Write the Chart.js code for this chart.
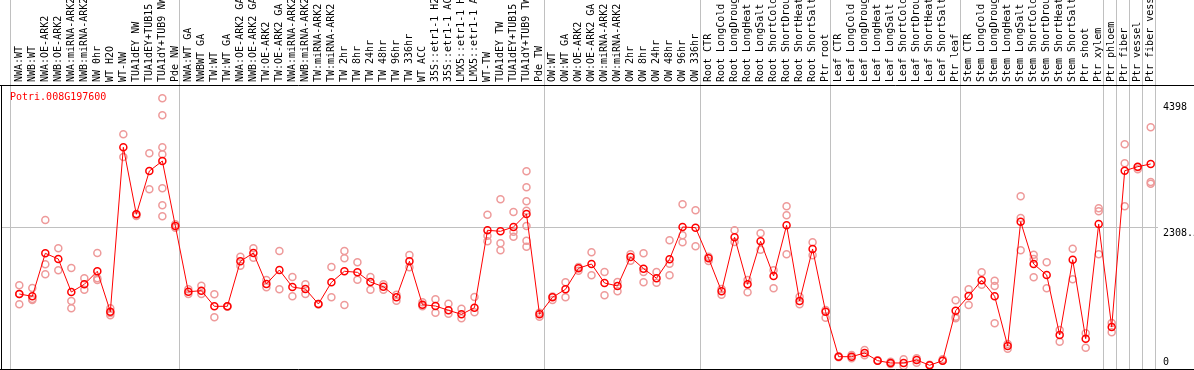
<!DOCTYPE html>
<html>
<head>
<meta charset="utf-8">
<script src="https://cdn.jsdelivr.net/npm/chart.js@4.4.1/dist/chart.umd.min.js"></script>
<style>
  html, body { margin: 0; padding: 0; background: #fff; }
  canvas { display: block; }
</style>
</head>
<body>
<canvas id="chart" width="1194" height="370"></canvas>
<script>
const geneId = 'Potri.008G197600';

const categories = [
    'NWA:WT', 'NWB:WT', 'NWA:OE-ARK2', 'NWB:OE-ARK2', 'NWA:miRNA-ARK2', 'NWB:miRNA-ARK2', 'NW 0hr',
    'WT H2O', 'WT-NW', 'TUA1dEY NW', 'TUA1dEY+TUB15 NW', 'TUA1dY+TUB9 NW', 'Pde NW',
    'NWA:WT GA', 'NWBWT GA', 'TW:WT', 'TW:WT GA', 'NWA:OE-ARK2 GA', 'NWB:OE-ARK2 GA', 'TW:OE-ARK2',
    'TW:OE-ARK2 GA', 'NWA:miRNA-ARK2', 'NWB:miRNA-ARK2', 'TW:miRNA-ARK2', 'TW:miRNA-ARK2',
    'TW 2hr', 'TW 8hr', 'TW 24hr', 'TW 48hr', 'TW 96hr', 'TW 336hr', 'WT ACC',
    '35S::etr1-1 H2O', '35S::etr1-1 ACC', 'LMX5::etr1-1 H2O', 'LMX5::etr1-1 ACC',
    'WT-TW', 'TUA1dEY TW', 'TUA1dEY+TUB15 TW', 'TUA1dY+TUB9 TW', 'Pde TW',
    'OW:WT', 'OW:WT GA', 'OW:OE-ARK2', 'OW:OE-ARK2 GA', 'OW:miRNA-ARK2', 'OW:miRNA-ARK2',
    'OW 2hr', 'OW 8hr', 'OW 24hr', 'OW 48hr', 'OW 96hr', 'OW 336hr',
    'Root CTR', 'Root LongCold', 'Root LongDrought', 'Root LongHeat', 'Root LongSalt',
    'Root ShortCold', 'Root ShortDrought', 'Root ShortHeat', 'Root ShortSalt', 'Ptr root',
    'Leaf CTR', 'Leaf LongCold', 'Leaf LongDrought', 'Leaf LongHeat', 'Leaf LongSalt',
    'Leaf ShortCold', 'Leaf ShortDrought', 'Leaf ShortHeat', 'Leaf ShortSalt', 'Ptr leaf',
    'Stem CTR', 'Stem LongCold', 'Stem LongDrought', 'Stem LongHeat', 'Stem LongSalt',
    'Stem ShortCold', 'Stem ShortDrought', 'Stem ShortHeat', 'Stem ShortSalt',
    'Ptr shoot', 'Ptr xylem', 'Ptr phloem', 'Ptr fiber', 'Ptr vessel', 'Ptr fiber vessel'
];

// mean expression per sample (red line)
const means = [
    1213, 1175, 1888, 1794, 1246, 1374, 1590, 920, 3647, 2535, 3253, 3419, 2341,
    1251, 1268, 1009, 1009, 1756, 1893, 1379, 1611, 1329, 1296, 1047, 1407,
    1590, 1573, 1412, 1334, 1158, 1756, 1036, 1014, 943, 876, 986, 2270, 2253, 2325, 2540, 876,
    1158, 1291, 1640, 1711, 1396, 1346, 1827, 1633, 1474, 1789, 2325, 2313,
    1805, 1258, 2154, 1374, 2087, 1512, 2353, 1097, 1960, 920,
    173, 173, 235, 107, 69, 69, 118, 31, 107, 936,
    1180, 1440, 1175, 351, 2412, 1711, 1528, 533, 1782, 472, 2374, 666, 3258, 3325, 3370
];

// individual replicates per sample (pink circles)
const replicates = [
    [1358, 1043, 1213], [1313, 1130, 1114], [2441, 1706, 1540], [1971, 1606], [1645, 1097, 976],
    [1474, 1285], [1893, 1474, 1446], [976, 860, 900], [3862, 3486], [2540, 2507],
    [3547, 2950], [4459, 4177, 3647, 3531, 2967, 2685, 2502], [2370, 2313],
    [1291, 1213], [1351, 1213], [1208, 827], [1009, 1000], [1832, 1683], [1971, 1815],
    [1446, 1325], [1927, 1291], [1495, 1175], [1374, 1213], [1047, 1040], [1661, 1159],
    [1927, 1806, 1031], [1739, 1451], [1495, 1285], [1374, 1285], [1202, 1102], [1860, 1656],
    [1076, 1009], [1125, 903], [1052, 887], [970, 810], [1164, 910],
    [2529, 2088, 2180], [2784, 2054, 1938], [2574, 2247, 2164],
    [3249, 2983, 2751, 2595, 2341, 2097, 1998], [903, 837],
    [1114, 1170], [1407, 1159], [1660, 1600], [1905, 1524], [1578, 1192], [1412, 1258],
    [1872, 1766], [1888, 1578, 1407], [1578, 1401], [2104, 1716, 1524], [2701, 2187, 2071], [2602, 2005],
    [1832, 1761], [1296, 1202], [2270, 2076], [1446, 1242], [2220, 1948], [1606, 1308],
    [2668, 2519, 1872], [1169, 1043], [2071, 1855], [948, 820],
    [180, 165], [202, 147], [285, 197], [107, 115], [90, 52], [130, 19], [147, 74], [31, 40], [130, 107],
    [1109, 837, 810],
    [1291, 1031], [1573, 1368], [1434, 1346, 727], [384, 306], [2834, 2474, 1938], [1865, 1794, 1490],
    [1739, 1308], [616, 422], [1965, 1457], [562, 323], [2635, 2585, 1872], [732, 578],
    [3696, 3381, 2668], [3315, 3282], [3978, 3071, 3043]
];

// gray separator drawn before these sample indexes
const groupBreaks = [0, 13, 41, 53, 63, 73, 84, 85, 86, 87, 88];
const yTickValues = [0, 2308.5, 4398];
const yTickLabels = ['0', '2308.5', '4398'];

const FONT = 'DejaVu Sans Mono';
const GRID = '#c0c0c0';
const X_MIN = -1.33, X_MAX = 87.56;
const CELL_SHIFT = 0.65; // separator sits this far left of a sample

const meanPoints = means.map((v, i) => ({ x: i, y: v }));
const repPoints = replicates.flatMap((vals, i) => vals.map(v => ({ x: i, y: v })));

const decorations = {
    id: 'decorations',
    afterDraw(chart) {
        const { ctx, chartArea, scales: { y } } = chart;
        ctx.save();
        ctx.font = `10px "${FONT}"`;
        ctx.textBaseline = 'middle';
        ctx.textAlign = 'left';

        // right-hand value labels
        ctx.fillStyle = '#000';
        y.ticks.forEach((t, i) => {
            const py = Math.min(y.getPixelForValue(t.value) + 5, chartArea.bottom - 7);
            ctx.fillText(yTickLabels[i], chartArea.right + 5, py);
        });

        // gene id
        ctx.fillStyle = '#ff0000';
        ctx.fillText(geneId, chartArea.left + 8, chartArea.top + 12);

        // frame lines
        ctx.strokeStyle = '#000';
        ctx.lineWidth = 1;
        ctx.beginPath();
        ctx.moveTo(0, chartArea.top + 0.5);
        ctx.lineTo(chart.width, chartArea.top + 0.5);
        ctx.moveTo(0, chartArea.bottom + 0.5);
        ctx.lineTo(chart.width, chartArea.bottom + 0.5);
        ctx.moveTo(chartArea.left - 0.5, chartArea.top);
        ctx.lineTo(chartArea.left - 0.5, chart.height);
        ctx.stroke();
        ctx.restore();
    }
};

new Chart(document.getElementById('chart'), {
    type: 'line',
    data: {
        datasets: [
            {
                label: 'mean',
                data: meanPoints,
                borderColor: '#ff0000',
                borderWidth: 1,
                tension: 0,
                pointRadius: 3.5,
                pointBorderWidth: 1.5,
                pointBorderColor: '#ff0000',
                pointBackgroundColor: 'rgba(0,0,0,0)'
            },
            {
                type: 'scatter',
                label: 'replicates',
                data: repPoints,
                showLine: false,
                pointRadius: 3.5,
                pointBorderWidth: 1.5,
                pointBorderColor: '#ee9a9a',
                pointBackgroundColor: 'rgba(0,0,0,0)'
            }
        ]
    },
    options: {
        responsive: false,
        animation: false,
        devicePixelRatio: 1,
        layout: { autoPadding: false, padding: { left: 2, bottom: 1, top: 0, right: 0 } },
        plugins: {
            legend: { display: false },
            tooltip: { enabled: false }
        },
        scales: {
            x: {
                type: 'linear',
                position: 'top',
                min: X_MIN,
                max: X_MAX,
                bounds: 'data',
                afterBuildTicks: scale => {
                    const ticks = [];
                    for (let i = 0; i <= categories.length; i++) {
                        ticks.push({ value: i - CELL_SHIFT });
                    }
                    scale.ticks = ticks;
                },
                afterFit: scale => { scale.height = 85; },
                border: { display: false },
                grid: {
                    drawOnChartArea: true,
                    drawTicks: true,
                    tickLength: 85,
                    color: GRID,
                    lineWidth: ctx => groupBreaks.includes(ctx.index) ? 1 : 0
                },
                ticks: {
                    autoSkip: false,
                    minRotation: 90,
                    maxRotation: 90,
                    padding: -82,
                    labelOffset: 20.5,
                    color: '#000',
                    font: { family: FONT, size: 10 },
                    callback: (value, index) => categories[index] || ''
                }
            },
            y: {
                type: 'linear',
                position: 'right',
                min: -31,
                max: 4680,
                bounds: 'data',
                afterBuildTicks: scale => {
                    scale.ticks = yTickValues.map(v => ({ value: v }));
                },
                afterFit: scale => { scale.width = 36; },
                border: { display: false },
                grid: {
                    drawTicks: false,
                    color: GRID,
                    lineWidth: ctx => (ctx.tick && ctx.tick.value === 2308.5) ? 1 : 0
                },
                ticks: { display: false }
            }
        }
    },
    plugins: [decorations]
});
</script>
</body>
</html>
